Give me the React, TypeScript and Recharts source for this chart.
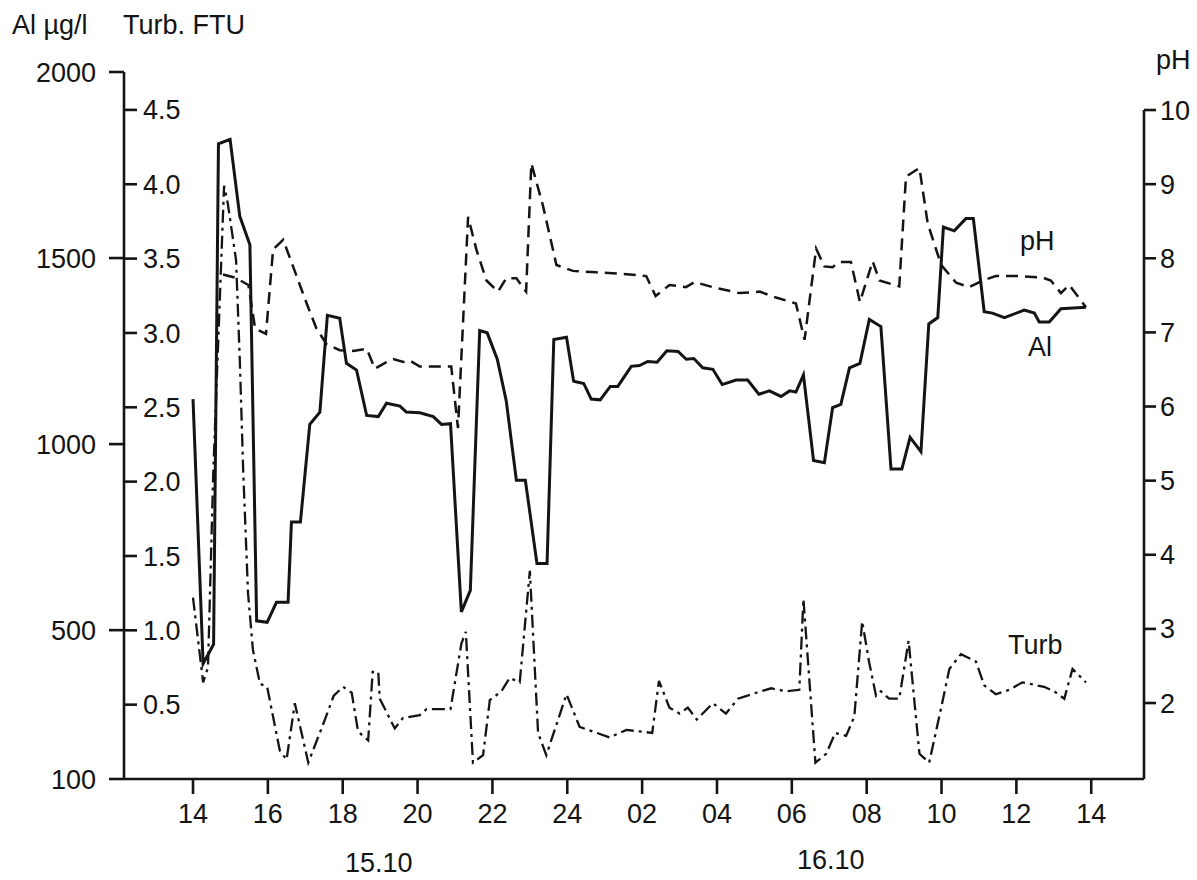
import React from 'react';
import { LineChart, Line, XAxis, YAxis, ReferenceLine } from 'recharts';

// hours since 14:00 on 15.10
const xTicks = [0, 2, 4, 6, 8, 10, 12, 14, 16, 18, 20, 22, 24];
const xTickLabels = ['14', '16', '18', '20', '22', '24', '02', '04', '06', '08', '10', '12', '14'];
const alTicks = [100, 500, 1000, 1500, 2000];
const turbTicks = [0.5, 1.0, 1.5, 2.0, 2.5, 3.0, 3.5, 4.0, 4.5];
const phTicks = [2, 3, 4, 5, 6, 7, 8, 9, 10];

const alHours = [
  0, 0.27, 0.55, 0.68, 0.99, 1.25, 1.52, 1.7, 1.98, 2.23, 2.54, 2.63, 2.87, 3.12, 3.39, 3.59,
  3.92, 4.1, 4.37, 4.64, 4.95, 5.17, 5.53, 5.7, 6.06, 6.42, 6.64, 6.88, 7.17, 7.41, 7.66, 7.86,
  8.13, 8.37, 8.64, 8.88, 9.19, 9.46, 9.64, 9.98, 10.17, 10.44, 10.64, 10.88, 11.15, 11.35,
  11.71, 11.93, 12.15, 12.4, 12.66, 12.96, 13.18, 13.38, 13.62, 13.89, 14.14, 14.51, 14.82,
  15.12, 15.4, 15.71, 15.94, 16.11, 16.31, 16.58, 16.87, 17.09, 17.31, 17.54, 17.82, 18.07,
  18.38, 18.65, 18.94, 19.16, 19.45, 19.66, 19.9, 20.05, 20.34, 20.65, 20.85, 21.14, 21.36,
  21.68, 22.21, 22.48, 22.61, 22.88, 23.19, 23.86,
];
const alValues = [
  1121, 410, 462, 1807, 1819, 1612, 1536, 525, 521, 575, 575, 791, 791, 1053, 1086, 1346,
  1338, 1217, 1199, 1077, 1074, 1110, 1102, 1086, 1084, 1074, 1053, 1055, 549, 607, 1305, 1299,
  1228, 1116, 903, 903, 679, 679, 1281, 1287, 1169, 1163, 1121, 1119, 1155, 1155,
  1209, 1211, 1222, 1220, 1251, 1249, 1228, 1230, 1205, 1201, 1160, 1172, 1172,
  1134, 1143, 1128, 1143, 1140, 1186, 956, 950, 1098, 1107, 1205, 1217, 1335,
  1316, 933, 933, 1018, 980, 1323, 1340, 1583, 1573, 1606, 1606, 1356, 1352,
  1340, 1360, 1352, 1328, 1328, 1364, 1368,
];

const phHours = [
  0.8, 1.12, 1.48, 1.66, 1.95, 2.14, 2.41, 2.68, 3.03, 3.3, 3.57, 3.92, 4.28, 4.64, 4.86, 5.17,
  5.35, 5.62, 5.79, 6.06, 6.5, 6.9, 7.08, 7.35, 7.57, 7.84, 8.15, 8.37, 8.64, 8.9, 9.04, 9.35,
  9.71, 10.15, 10.77, 11.49, 12.11, 12.36, 12.73, 13.17, 13.4, 13.89, 14.6, 15.14, 15.58, 16.11,
  16.34, 16.65, 16.87, 17.09, 17.27, 17.58, 17.82, 18.16, 18.34, 18.87, 19.05, 19.41, 19.63,
  19.99, 20.39, 20.74, 21.1, 21.45, 22.08, 22.7, 22.92, 23.19, 23.41, 23.86,
];
const phValues = [
  7.78, 7.74, 7.64, 7.05, 6.98, 8.12, 8.25, 7.88, 7.4, 7.05, 6.84, 6.76, 6.75, 6.78, 6.51, 6.6,
  6.64, 6.6, 6.62, 6.54, 6.54, 6.54, 5.71, 8.56, 8.12, 7.7, 7.55, 7.73, 7.73, 7.55, 9.28, 8.71,
  7.91, 7.83, 7.81, 7.79, 7.76, 7.49, 7.64, 7.61, 7.68, 7.61, 7.53, 7.55, 7.47, 7.39,
  6.9, 8.13, 7.89, 7.88, 7.95, 7.95, 7.41, 7.96, 7.7, 7.62, 9.1, 9.22, 8.47,
  7.91, 7.67, 7.61, 7.7, 7.76, 7.76, 7.74, 7.7, 7.53, 7.64, 7.34,
];

const turbHours = [
  0, 0.27, 0.4, 0.54, 0.83, 0.93, 1.15, 1.25, 1.34, 1.47, 1.6, 1.79, 1.98, 2.32, 2.5, 2.72,
  3.08, 3.48, 3.76, 4.01, 4.24, 4.41, 4.68, 4.8, 4.95, 4.99, 5.39, 5.61, 6.06, 6.24, 6.88,
  7.17, 7.29, 7.48, 7.75, 7.93, 8.24, 8.46, 8.73, 9.0, 9.22, 9.44, 9.98, 10.33, 11.13, 11.58,
  11.93, 12.27, 12.45, 12.73, 13.0, 13.22, 13.46, 13.89, 14.24, 14.56, 15.05, 15.45, 15.85,
  16.2, 16.31, 16.63, 16.92, 17.16, 17.45, 17.67, 17.88, 18.07, 18.25, 18.38, 18.6, 18.87,
  19.12, 19.41, 19.67, 19.94, 20.21, 20.52, 20.92, 21.14, 21.45, 21.81, 22.16, 22.74, 23.01,
  23.28, 23.5, 23.86,
];
const turbValues = [
  1.22, 0.65, 0.75, 2.05, 3.99, 3.87, 3.49, 2.82, 2.08, 1.25, 0.87, 0.64, 0.62, 0.19, 0.13, 0.51,
  0.11, 0.37, 0.56, 0.62, 0.58, 0.32, 0.26, 0.72, 0.72, 0.54, 0.34, 0.41, 0.43, 0.47, 0.47,
  0.91, 0.99, 0.11, 0.16, 0.53, 0.59, 0.68, 0.65, 1.4, 0.31, 0.16, 0.57, 0.35, 0.28, 0.33,
  0.32, 0.31, 0.66, 0.48, 0.44, 0.48, 0.4, 0.51, 0.44, 0.54, 0.58, 0.61, 0.59,
  0.6, 1.21, 0.11, 0.17, 0.31, 0.29, 0.42, 1.06, 0.78, 0.56, 0.59, 0.54, 0.54,
  0.93, 0.17, 0.11, 0.42, 0.74, 0.84, 0.79, 0.63, 0.57, 0.6, 0.65, 0.62, 0.59,
  0.54, 0.74, 0.65,
];

const FONT = '"Liberation Sans", Arial, Helvetica, sans-serif';
const INK = '#141414';
const FS = 27;

const X_MIN = -1.844;
const X_MAX = 25.41;

const toRows = (hours: number[], values: number[]) => hours.map((h, i) => ({ h, v: values[i] }));

const tickStyle = { fontSize: FS, fill: INK, fontFamily: FONT };

// label placed by its baseline (line-height = font size, baseline ~0.85em below top)
function Caption({ x, baseline, children }: { x: number; baseline: number; children: React.ReactNode }) {
  return (
    <span
      style={{
        position: 'absolute',
        left: x,
        top: baseline - Math.round(FS * 0.85),
        fontSize: FS,
        lineHeight: `${FS}px`,
        fontFamily: FONT,
        color: INK,
        whiteSpace: 'nowrap',
      }}
    >
      {children}
    </span>
  );
}

export default function App() {
  const alData = toRows(alHours, alValues);
  const phData = toRows(phHours, phValues);
  const turbData = toRows(turbHours, turbValues);

  return (
    <div
      style={{
        position: 'fixed',
        left: 0,
        top: 0,
        width: 1197,
        height: 880,
        overflow: 'hidden',
        background: '#fff',
      }}
    >
      <LineChart width={1197} height={880} margin={{ top: 72, right: 0, bottom: 0, left: 0 }}>
        <XAxis
          type="number"
          dataKey="h"
          domain={[X_MIN, X_MAX]}
          allowDataOverflow
          ticks={xTicks}
          tickFormatter={(h: number) => xTickLabels[xTicks.indexOf(h)] ?? ''}
          height={101}
          tickSize={15}
          tickMargin={10}
          tick={tickStyle}
          axisLine={{ stroke: INK, strokeWidth: 2.6 }}
          tickLine={{ stroke: INK, strokeWidth: 2.6 }}
        />
        <YAxis
          yAxisId="al"
          orientation="left"
          type="number"
          domain={[100, 2000]}
          allowDataOverflow
          ticks={alTicks}
          width={124}
          tickSize={15}
          tickMargin={13}
          tick={tickStyle}
          axisLine={{ stroke: INK, strokeWidth: 2.6 }}
          tickLine={{ stroke: INK, strokeWidth: 2.6 }}
        />
        <YAxis
          yAxisId="turb"
          orientation="left"
          mirror
          type="number"
          domain={[0, 4.755]}
          allowDataOverflow
          ticks={turbTicks}
          tickFormatter={(v: number) => v.toFixed(1)}
          tickSize={13}
          tickMargin={6}
          tick={tickStyle}
          axisLine={false}
          tickLine={{ stroke: INK, strokeWidth: 2.6 }}
        />
        <YAxis
          yAxisId="ph"
          orientation="right"
          type="number"
          domain={[0.975, 10.513]}
          allowDataOverflow
          ticks={phTicks}
          width={53}
          tickSize={12}
          tickMargin={4}
          tick={tickStyle}
          axisLine={false}
          tickLine={{ stroke: INK, strokeWidth: 2.6 }}
        />
        <ReferenceLine
          yAxisId="ph"
          segment={[
            { x: X_MAX, y: 10 },
            { x: X_MAX, y: 0.975 },
          ]}
          stroke={INK}
          strokeWidth={2.6}
          ifOverflow="visible"
        />
        <Line
          yAxisId="al"
          data={alData}
          dataKey="v"
          type="linear"
          stroke={INK}
          strokeWidth={3}
          dot={false}
          isAnimationActive={false}
        />
        <Line
          yAxisId="ph"
          data={phData}
          dataKey="v"
          type="linear"
          stroke={INK}
          strokeWidth={2.5}
          strokeDasharray="12 7"
          dot={false}
          isAnimationActive={false}
        />
        <Line
          yAxisId="turb"
          data={turbData}
          dataKey="v"
          type="linear"
          stroke={INK}
          strokeWidth={2.3}
          strokeDasharray="13 5 3 5"
          dot={false}
          isAnimationActive={false}
        />
      </LineChart>

      <Caption x={12} baseline={35}>Al µg/l</Caption>
      <Caption x={123} baseline={35}>Turb. FTU</Caption>
      <Caption x={1156} baseline={70}>pH</Caption>
      <Caption x={1020} baseline={251}>pH</Caption>
      <Caption x={1028} baseline={357}>Al</Caption>
      <Caption x={1008} baseline={655}>Turb</Caption>
      <Caption x={345} baseline={873}>15.10</Caption>
      <Caption x={797} baseline={870}>16.10</Caption>
    </div>
  );
}
